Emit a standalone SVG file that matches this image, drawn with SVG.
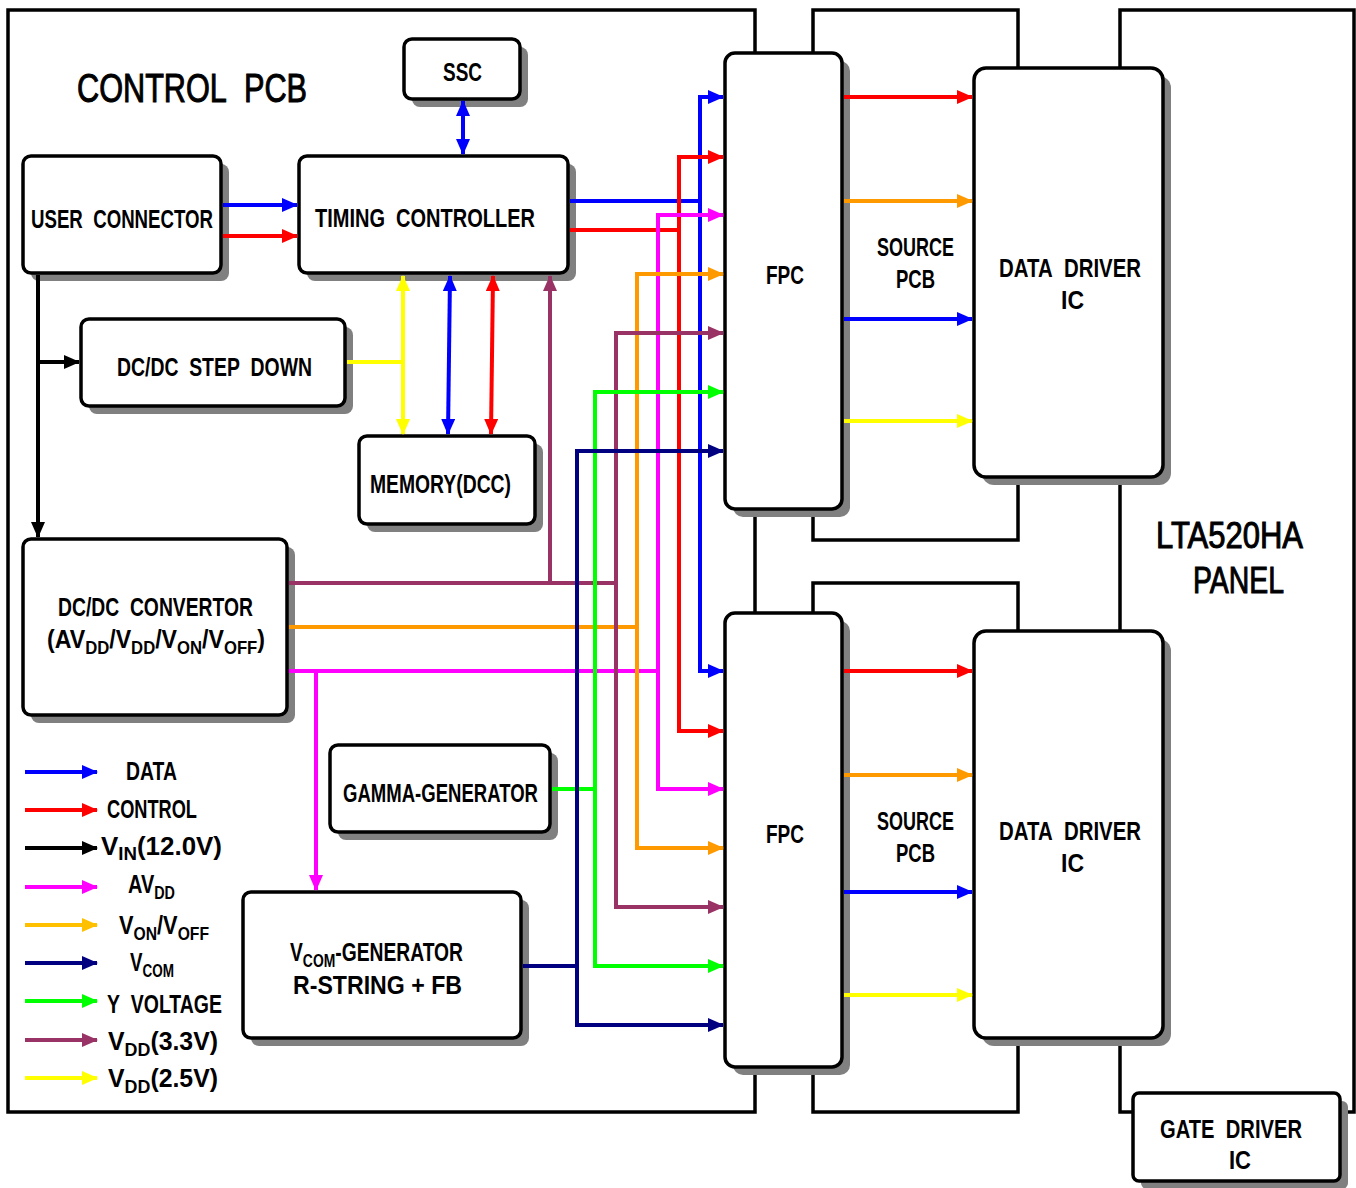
<svg xmlns="http://www.w3.org/2000/svg" width="1356" height="1188" viewBox="0 0 1356 1188">
<style>
.frame{fill:none;stroke:#000;stroke-width:3.5}
.sh{fill:#808080}
.box{fill:#fff;stroke:#000;stroke-width:3.5}
text{font-family:"Liberation Sans",Arial,sans-serif;font-weight:bold;font-size:25px;fill:#000}
text.big{font-weight:normal;font-size:40px;stroke:#000;stroke-width:1}
.c{fill:none;stroke-width:4}
.sub{font-size:18px}
</style>
<defs>
<marker id="mB" viewBox="0 0 16 14" refX="15" refY="7" markerWidth="16" markerHeight="14" markerUnits="userSpaceOnUse" orient="auto-start-reverse"><path d="M0,0L16,7L0,14z" fill="#0000FF"/></marker>
<marker id="mR" viewBox="0 0 16 14" refX="15" refY="7" markerWidth="16" markerHeight="14" markerUnits="userSpaceOnUse" orient="auto-start-reverse"><path d="M0,0L16,7L0,14z" fill="#FF0000"/></marker>
<marker id="mK" viewBox="0 0 16 14" refX="15" refY="7" markerWidth="16" markerHeight="14" markerUnits="userSpaceOnUse" orient="auto-start-reverse"><path d="M0,0L16,7L0,14z" fill="#000000"/></marker>
<marker id="mM" viewBox="0 0 16 14" refX="15" refY="7" markerWidth="16" markerHeight="14" markerUnits="userSpaceOnUse" orient="auto-start-reverse"><path d="M0,0L16,7L0,14z" fill="#FF00FF"/></marker>
<marker id="mO" viewBox="0 0 16 14" refX="15" refY="7" markerWidth="16" markerHeight="14" markerUnits="userSpaceOnUse" orient="auto-start-reverse"><path d="M0,0L16,7L0,14z" fill="#FF9900"/></marker>
<marker id="mG" viewBox="0 0 16 14" refX="15" refY="7" markerWidth="16" markerHeight="14" markerUnits="userSpaceOnUse" orient="auto-start-reverse"><path d="M0,0L16,7L0,14z" fill="#FFC000"/></marker>
<marker id="mN" viewBox="0 0 16 14" refX="15" refY="7" markerWidth="16" markerHeight="14" markerUnits="userSpaceOnUse" orient="auto-start-reverse"><path d="M0,0L16,7L0,14z" fill="#000080"/></marker>
<marker id="mL" viewBox="0 0 16 14" refX="15" refY="7" markerWidth="16" markerHeight="14" markerUnits="userSpaceOnUse" orient="auto-start-reverse"><path d="M0,0L16,7L0,14z" fill="#00FF00"/></marker>
<marker id="mP" viewBox="0 0 16 14" refX="15" refY="7" markerWidth="16" markerHeight="14" markerUnits="userSpaceOnUse" orient="auto-start-reverse"><path d="M0,0L16,7L0,14z" fill="#993366"/></marker>
<marker id="mY" viewBox="0 0 16 14" refX="15" refY="7" markerWidth="16" markerHeight="14" markerUnits="userSpaceOnUse" orient="auto-start-reverse"><path d="M0,0L16,7L0,14z" fill="#FFFF00"/></marker>
</defs>
<rect width="1356" height="1188" fill="#fff"/>

<g id="frames">
<rect class="frame" x="8" y="10" width="747" height="1102"/>
<rect class="frame" x="813" y="10" width="205" height="530"/>
<rect class="frame" x="813" y="583" width="205" height="529"/>
<rect class="frame" x="1120" y="10" width="234" height="1102"/>
<text class="big" x="77" y="102" textLength="230" lengthAdjust="spacingAndGlyphs">CONTROL&#160;&#160;PCB</text>
<text class="big" x="1156" y="548" style="font-size:36px" textLength="147" lengthAdjust="spacingAndGlyphs">LTA520HA</text>
<text class="big" x="1193" y="593" style="font-size:36px" textLength="91" lengthAdjust="spacingAndGlyphs">PANEL</text>
</g>

<g id="ssc"><rect class="sh" x="412" y="47" width="116" height="60" rx="8"/><rect class="box" x="404" y="39" width="116" height="60" rx="8"/><text x="443" y="81" textLength="39" lengthAdjust="spacingAndGlyphs">SSC</text></g>
<g id="user-connector"><rect class="sh" x="31" y="164" width="198" height="117" rx="8"/><rect class="box" x="23" y="156" width="198" height="117" rx="8"/><text x="31" y="228" textLength="182" lengthAdjust="spacingAndGlyphs">USER&#160;&#160;CONNECTOR</text></g>
<g id="timing-controller"><rect class="sh" x="307" y="164" width="269" height="117" rx="8"/><rect class="box" x="299" y="156" width="269" height="117" rx="8"/><text x="315" y="227" textLength="220" lengthAdjust="spacingAndGlyphs">TIMING&#160;&#160;CONTROLLER</text></g>
<g id="dcdc-step-down"><rect class="sh" x="89" y="327" width="264" height="87" rx="8"/><rect class="box" x="81" y="319" width="264" height="87" rx="8"/><text x="117" y="376" textLength="195" lengthAdjust="spacingAndGlyphs">DC/DC&#160;&#160;STEP&#160;&#160;DOWN</text></g>
<g id="memory"><rect class="sh" x="367" y="444" width="176" height="88" rx="8"/><rect class="box" x="359" y="436" width="176" height="88" rx="8"/><text x="370" y="493" textLength="141" lengthAdjust="spacingAndGlyphs">MEMORY(DCC)</text></g>
<g id="dcdc-convertor"><rect class="sh" x="31" y="547" width="264" height="176" rx="8"/><rect class="box" x="23" y="539" width="264" height="176" rx="8"/><text x="58" y="616" textLength="195" lengthAdjust="spacingAndGlyphs">DC/DC&#160;&#160;CONVERTOR</text><text x="47" y="648" textLength="218" lengthAdjust="spacingAndGlyphs">(AV<tspan class="sub" dy="6">DD</tspan><tspan dy="-6">/V</tspan><tspan class="sub" dy="6">DD</tspan><tspan dy="-6">/V</tspan><tspan class="sub" dy="6">ON</tspan><tspan dy="-6">/V</tspan><tspan class="sub" dy="6">OFF</tspan><tspan dy="-6">)</tspan></text></g>
<g id="gamma-generator"><rect class="sh" x="338" y="753" width="220" height="87" rx="8"/><rect class="box" x="330" y="745" width="220" height="87" rx="8"/><text x="343" y="802" textLength="195" lengthAdjust="spacingAndGlyphs">GAMMA-GENERATOR</text></g>
<g id="vcom-generator"><rect class="sh" x="251" y="900" width="278" height="146" rx="8"/><rect class="box" x="243" y="892" width="278" height="146" rx="8"/><text x="290" y="961" textLength="173" lengthAdjust="spacingAndGlyphs">V<tspan class="sub" dy="6">COM</tspan><tspan dy="-6">-GENERATOR</tspan></text><text x="293" y="994" textLength="169" lengthAdjust="spacingAndGlyphs">R-STRING + FB</text></g>
<g id="fpc-top"><rect class="sh" x="733" y="61" width="117" height="456" rx="10"/><rect class="box" x="725" y="53" width="117" height="456" rx="10"/><text x="766" y="284" textLength="38" lengthAdjust="spacingAndGlyphs">FPC</text></g>
<g id="fpc-bottom"><rect class="sh" x="733" y="621" width="117" height="454" rx="10"/><rect class="box" x="725" y="613" width="117" height="454" rx="10"/><text x="766" y="843" textLength="38" lengthAdjust="spacingAndGlyphs">FPC</text></g>
<g id="source-pcb-top-label"><text x="877" y="256" textLength="77" lengthAdjust="spacingAndGlyphs">SOURCE</text><text x="896" y="288" textLength="39" lengthAdjust="spacingAndGlyphs">PCB</text></g>
<g id="source-pcb-bottom-label"><text x="877" y="830" textLength="77" lengthAdjust="spacingAndGlyphs">SOURCE</text><text x="896" y="862" textLength="39" lengthAdjust="spacingAndGlyphs">PCB</text></g>
<g id="data-driver-top"><rect class="sh" x="982" y="76" width="189" height="409" rx="12"/><rect class="box" x="974" y="68" width="189" height="409" rx="12"/><text x="999" y="277" textLength="142" lengthAdjust="spacingAndGlyphs">DATA&#160;&#160;DRIVER</text><text x="1061" y="309" textLength="23" lengthAdjust="spacingAndGlyphs">IC</text></g>
<g id="data-driver-bottom"><rect class="sh" x="982" y="639" width="189" height="407" rx="12"/><rect class="box" x="974" y="631" width="189" height="407" rx="12"/><text x="999" y="840" textLength="142" lengthAdjust="spacingAndGlyphs">DATA&#160;&#160;DRIVER</text><text x="1061" y="872" textLength="23" lengthAdjust="spacingAndGlyphs">IC</text></g>
<g id="gate-driver"><rect class="sh" x="1141" y="1101" width="207" height="88" rx="6"/><rect class="box" x="1133" y="1093" width="207" height="88" rx="6"/><text x="1160" y="1138" textLength="142" lengthAdjust="spacingAndGlyphs">GATE&#160;&#160;DRIVER</text><text x="1229" y="1169" textLength="22" lengthAdjust="spacingAndGlyphs">IC</text></g>

<g id="connectors">
<path class="c" stroke="#0000FF" d="M223,205H297" marker-end="url(#mB)"/>
<path class="c" stroke="#FF0000" d="M223,236H297" marker-end="url(#mR)"/>
<path class="c" stroke="#0000FF" d="M463,101V154" marker-start="url(#mB)" marker-end="url(#mB)"/>
<path class="c" stroke="#000000" d="M38,275V537" marker-end="url(#mK)"/>
<path class="c" stroke="#000000" d="M38,362H79" marker-end="url(#mK)"/>
<path class="c" stroke="#FFFF00" d="M347,362H403"/>
<path class="c" stroke="#FFFF00" d="M403,276V434" marker-start="url(#mY)" marker-end="url(#mY)"/>
<path class="c" stroke="#0000FF" d="M450,276L448,434" marker-start="url(#mB)" marker-end="url(#mB)"/>
<path class="c" stroke="#FF0000" d="M493,276L491,434" marker-start="url(#mR)" marker-end="url(#mR)"/>
<path class="c" stroke="#993366" d="M550,583V276" marker-end="url(#mP)"/>
<path class="c" stroke="#0000FF" d="M570,201H700"/>
<path class="c" stroke="#0000FF" d="M700,201V97H723" marker-end="url(#mB)"/>
<path class="c" stroke="#0000FF" d="M700,201V671H723" marker-end="url(#mB)"/>
<path class="c" stroke="#FF0000" d="M570,230H679"/>
<path class="c" stroke="#FF0000" d="M679,230V157H723" marker-end="url(#mR)"/>
<path class="c" stroke="#FF0000" d="M679,230V731H723" marker-end="url(#mR)"/>
<path class="c" stroke="#FF00FF" d="M289,671H658"/>
<path class="c" stroke="#FF00FF" d="M658,671V215H723" marker-end="url(#mM)"/>
<path class="c" stroke="#FF00FF" d="M658,671V789H723" marker-end="url(#mM)"/>
<path class="c" stroke="#FF00FF" d="M316,671V890" marker-end="url(#mM)"/>
<path class="c" stroke="#FF9900" d="M289,627H637"/>
<path class="c" stroke="#FF9900" d="M637,627V274H723" marker-end="url(#mO)"/>
<path class="c" stroke="#FF9900" d="M637,627V848H723" marker-end="url(#mO)"/>
<path class="c" stroke="#993366" d="M289,583H616"/>
<path class="c" stroke="#993366" d="M616,583V333H723" marker-end="url(#mP)"/>
<path class="c" stroke="#993366" d="M616,583V907H723" marker-end="url(#mP)"/>
<path class="c" stroke="#00FF00" d="M552,789H595"/>
<path class="c" stroke="#00FF00" d="M595,789V392H723" marker-end="url(#mL)"/>
<path class="c" stroke="#00FF00" d="M595,789V966H723" marker-end="url(#mL)"/>
<path class="c" stroke="#000080" d="M523,966H577"/>
<path class="c" stroke="#000080" d="M577,966V451H723" marker-end="url(#mN)"/>
<path class="c" stroke="#000080" d="M577,966V1025H723" marker-end="url(#mN)"/>
<path class="c" stroke="#FF0000" d="M844,97H972" marker-end="url(#mR)"/>
<path class="c" stroke="#FF9900" d="M844,201H972" marker-end="url(#mO)"/>
<path class="c" stroke="#0000FF" d="M844,319H972" marker-end="url(#mB)"/>
<path class="c" stroke="#FFFF00" d="M844,421H972" marker-end="url(#mY)"/>
<path class="c" stroke="#FF0000" d="M844,671H972" marker-end="url(#mR)"/>
<path class="c" stroke="#FF9900" d="M844,775H972" marker-end="url(#mO)"/>
<path class="c" stroke="#0000FF" d="M844,892H972" marker-end="url(#mB)"/>
<path class="c" stroke="#FFFF00" d="M844,995H972" marker-end="url(#mY)"/>
</g>

<g id="legend">
<path class="c" stroke="#0000FF" d="M25,772H97" marker-end="url(#mB)"/>
<path class="c" stroke="#FF0000" d="M25,810H97" marker-end="url(#mR)"/>
<path class="c" stroke="#000000" d="M25,848H97" marker-end="url(#mK)"/>
<path class="c" stroke="#FF00FF" d="M25,887H97" marker-end="url(#mM)"/>
<path class="c" stroke="#FFC000" d="M25,925H97" marker-end="url(#mG)"/>
<path class="c" stroke="#000080" d="M25,963H97" marker-end="url(#mN)"/>
<path class="c" stroke="#00FF00" d="M25,1001H97" marker-end="url(#mL)"/>
<path class="c" stroke="#993366" d="M25,1040H97" marker-end="url(#mP)"/>
<path class="c" stroke="#FFFF00" d="M25,1078H97" marker-end="url(#mY)"/>
<text x="126" y="780" textLength="51" lengthAdjust="spacingAndGlyphs">DATA</text>
<text x="107" y="818" textLength="90" lengthAdjust="spacingAndGlyphs">CONTROL</text>
<text x="101" y="855" textLength="121" lengthAdjust="spacingAndGlyphs">V<tspan class="sub" dy="5">IN</tspan><tspan dy="-5">(12.0V)</tspan></text>
<text x="128" y="893" textLength="47" lengthAdjust="spacingAndGlyphs">AV<tspan class="sub" dy="6">DD</tspan></text>
<text x="119" y="934" textLength="90" lengthAdjust="spacingAndGlyphs">V<tspan class="sub" dy="6">ON</tspan><tspan dy="-6">/V</tspan><tspan class="sub" dy="6">OFF</tspan></text>
<text x="130" y="971" textLength="44" lengthAdjust="spacingAndGlyphs">V<tspan class="sub" dy="6">COM</tspan></text>
<text x="107" y="1013" textLength="115" lengthAdjust="spacingAndGlyphs">Y&#160;&#160;VOLTAGE</text>
<text x="108" y="1050" textLength="110" lengthAdjust="spacingAndGlyphs">V<tspan class="sub" dy="6">DD</tspan><tspan dy="-6">(3.3V)</tspan></text>
<text x="108" y="1087" textLength="110" lengthAdjust="spacingAndGlyphs">V<tspan class="sub" dy="6">DD</tspan><tspan dy="-6">(2.5V)</tspan></text>
</g>
</svg>
